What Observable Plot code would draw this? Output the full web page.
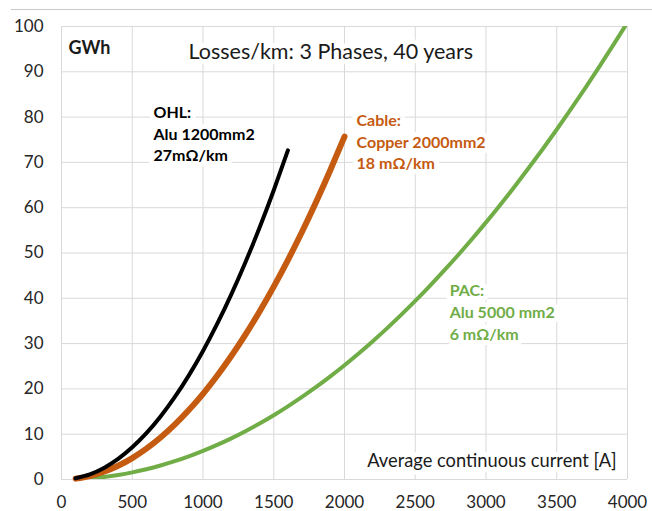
<!DOCTYPE html>
<html>
<head>
<meta charset="utf-8">
<script src="https://cdn.jsdelivr.net/npm/d3@7"></script>
<script src="https://cdn.jsdelivr.net/npm/@observablehq/plot@0.6"></script>
<style>
  html, body { margin: 0; padding: 0; background: #fff; }
</style>
</head>
<body>
<div id="chart"></div>
<script>
// Current [A]
const ohlCurrent = [100,200,300,400,500,600,700,800,900,1000,1100,1200,1300,1400,1500,1600];
const ohlLoss    = [0.28,1.14,2.55,4.54,7.10,10.22,13.91,18.16,22.99,28.38,34.34,40.87,47.97,55.63,63.86,72.66];

const cableCurrent = [100,200,300,400,500,600,700,800,900,1000,1100,1200,1300,1400,1500,1600,1700,1800,1900,2000];
const cableLoss    = [0.19,0.76,1.70,3.03,4.73,6.81,9.27,12.11,15.33,18.92,22.90,27.25,31.98,37.09,42.57,48.44,54.68,61.31,68.31,75.69];

const pacCurrent = [100,200,300,400,500,600,700,800,900,1000,1100,1200,1300,1400,1500,1600,1700,1800,1900,2000,
                    2100,2200,2300,2400,2500,2600,2700,2800,2900,3000,3100,3200,3300,3400,3500,3600,3700,3800,3900,4000];
const pacLoss    = [0.06,0.25,0.57,1.01,1.58,2.27,3.09,4.04,5.11,6.31,7.63,9.08,10.66,12.36,14.19,16.15,18.23,20.43,22.77,25.23,
                    27.81,30.53,33.36,36.33,39.42,42.64,45.98,49.45,53.04,56.76,60.61,64.59,68.69,72.91,77.26,81.74,86.35,91.08,95.93,100.9];

const xTicks = [0,500,1000,1500,2000,2500,3000,3500,4000];
const yTicks = [0,10,20,30,40,50,60,70,80,90,100];

const seriesNames = ["OHL","Cable","PAC"];
const seriesColors = ["#000000","#c55a11","#70ad47"];
const seriesLabels = ["OHL:\nAlu 1200mm2\n27mΩ/km", "Cable:\nCopper 2000mm2\n18 mΩ/km", "PAC:\nAlu 5000 mm2\n6 mΩ/km"];
const labelCurrent = [650, 2085, 2743];
const labelLoss = [83.2, 81.4, 43.8];

const titleText = "Losses/km: 3 Phases, 40 years";
const unitText = "GWh";
const xLabelText = "Average continuous current [A]";

const toRows = (xs, ys, s) => xs.map((x, i) => ({current: x, loss: ys[i], series: s}));
const ohl = toRows(ohlCurrent, ohlLoss, "OHL");
const cable = toRows(cableCurrent, cableLoss, "Cable");
const pac = toRows(pacCurrent, pacLoss, "PAC");
const labels = seriesNames.map((s, i) => ({series: s, text: seriesLabels[i], current: labelCurrent[i], loss: labelLoss[i]}));

const gridColor = "#d9d9d9";

const chart = Plot.plot({
  width: 652,
  height: 511,
  marginLeft: 61,
  marginRight: 25,
  marginTop: 26,
  marginBottom: 32,
  style: {fontFamily: "Lato, 'Open Sans', sans-serif", fontSize: "17px", color: "#262626", background: "white"},
  x: {domain: [0, 4000], ticks: xTicks, tickSize: 0, tickPadding: 16, label: null},
  y: {domain: [0, 100], ticks: yTicks, tickSize: 0, tickPadding: 18, label: null},
  color: {domain: seriesNames, range: seriesColors},
  marks: [
    Plot.gridX(xTicks, {stroke: gridColor, strokeOpacity: 1}),
    Plot.gridY(yTicks, {stroke: gridColor, strokeOpacity: 1}),
    Plot.axisX({ticks: xTicks, tickSize: 0, tickPadding: 16, label: null, fill: "#262626", tickFormat: d => String(d)}),
    Plot.axisY({ticks: yTicks, tickSize: 0, tickPadding: 18, label: null, fill: "#262626"}),
    Plot.text([titleText], {frameAnchor: "top-left", dx: 127, dy: 26, textAnchor: "start", lineAnchor: "middle", fontSize: 21.5, fill: "#1a1a1a", stroke: "white", strokeWidth: 10}),
    Plot.text([unitText], {frameAnchor: "top-left", dx: 7, dy: 22, textAnchor: "start", lineAnchor: "middle", fontSize: 18, fontWeight: "bold", fill: "#1a1a1a", stroke: "white", strokeWidth: 8}),
    Plot.line(pac, {x: "current", y: "loss", stroke: "#70ad47", strokeWidth: 4, curve: "natural", clip: true}),
    Plot.line(cable, {x: "current", y: "loss", stroke: "#c55a11", strokeWidth: 6, curve: "natural", strokeLinecap: "round"}),
    Plot.line(ohl, {x: "current", y: "loss", stroke: "#000000", strokeWidth: 4, curve: "natural", strokeLinecap: "round"}),
    Plot.text(labels, {x: "current", y: "loss", text: "text", fill: "series", textAnchor: "start", lineAnchor: "top", lineHeight: 1.35, fontSize: 16, fontWeight: "bold", stroke: "white", strokeWidth: 10}),
    Plot.text([xLabelText], {frameAnchor: "bottom-right", dx: -11, dy: -18, textAnchor: "end", lineAnchor: "middle", fontSize: 18.3, fill: "#1a1a1a", stroke: "white", strokeWidth: 10})
  ]
});
// chart area border (top edge visible in the reference)
d3.select(chart).append("line")
  .attr("x1", 11).attr("x2", 652).attr("y1", 9.5).attr("y2", 9.5)
  .attr("stroke", "#c9c9c9").attr("stroke-width", 1);
document.getElementById("chart").appendChild(chart);
</script>
</body>
</html>
